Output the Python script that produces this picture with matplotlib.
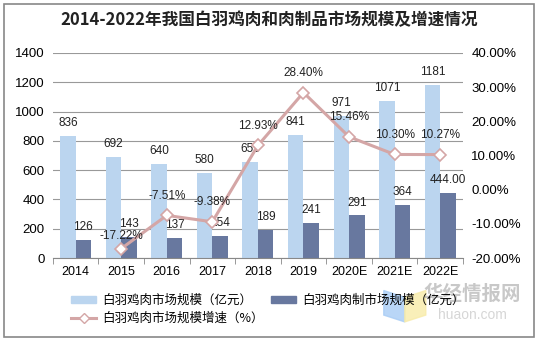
import numpy as np
import matplotlib.pyplot as plt
from matplotlib.patches import Rectangle, Polygon
from matplotlib.lines import Line2D

plt.rcParams['font.family'] = ['Liberation Sans', 'Noto Sans CJK SC', 'DejaVu Sans']

years = ['2014', '2015', '2016', '2017', '2018', '2019', '2020E', '2021E', '2022E']
market = [836, 692, 640, 580, 655, 841, 971, 1071, 1181]
products = [126, 143, 137, 154, 189, 241, 291, 364, 444]
product_labels = ['126', '143', '137', '154', '189', '241', '291', '364', '444.00']
growth = [np.nan, -17.22, -7.51, -9.38, 12.93, 28.40, 15.46, 10.30, 10.27]

c_light = '#BBD5EF'
c_dark = '#68789F'
c_line = '#D4A6A6'

fig = plt.figure(figsize=(5.39, 3.41), dpi=100)
ax = fig.add_axes([0.098, 0.243, 0.761, 0.602])
ax2 = ax.twinx()

x = np.arange(len(years))
w = 0.34
b1 = ax.bar(x - w / 2, market, w, color=c_light, zorder=2)
b2 = ax.bar(x + w / 2, products, w, color=c_dark, zorder=2)

for xi, v in zip(x, market):
    ax.annotate(str(v), (xi - w / 2, v), xytext=(0, 5), textcoords='offset points',
                ha='center', va='bottom', fontsize=8.5, color='#222222')
for xi, v, s in zip(x, products, product_labels):
    ax.annotate(s, (xi + w / 2, v), xytext=(0, 5), textcoords='offset points',
                ha='center', va='bottom', fontsize=8.5, color='#222222')

ax.set_ylim(0, 1400)
ax.set_yticks(range(0, 1401, 200))
ax.set_xlim(-0.5, len(years) - 0.5)
ax.set_xticks(x)
ax.set_xticklabels(years, fontsize=9)
ax.set_xticks(np.arange(-0.5, len(years), 1), minor=True)
ax.tick_params(axis='x', which='major', length=0, pad=6)
ax.tick_params(axis='x', which='minor', length=4, color='#888888')
ax.tick_params(axis='y', length=0, labelsize=9.5, pad=6)
ax.grid(axis='y', color='#999999', linewidth=0.8, zorder=0)
ax.set_axisbelow(True)
for sp in ['top', 'left', 'right']:
    ax.spines[sp].set_visible(False)
    ax2.spines[sp].set_visible(False)
ax.spines['bottom'].set_color('#888888')
ax2.spines['bottom'].set_visible(False)

ax2.plot(x, growth, color=c_line, linewidth=2.2, marker='D', markersize=6,
         markerfacecolor='white', markeredgecolor=c_line, markeredgewidth=1.2, zorder=3)
ax2.set_ylim(-20, 40)
ax2.set_yticks(range(-20, 41, 10))
ax2.set_yticklabels([f'{t:.2f}%' for t in range(-20, 41, 10)])
ax2.tick_params(axis='y', length=0, labelsize=9.5, pad=6)
for xi, g in zip(x, growth):
    if np.isnan(g):
        continue
    off = 5 if xi == 1 else 10
    ax2.annotate(f'{g:.2f}%', (xi, g), xytext=(0, off), textcoords='offset points',
                 ha='center', va='bottom', fontsize=8.5, color='#222222')

fig.text(0.5, 0.94, '2014-2022年我国白羽鸡肉和肉制品市场规模及增速情况',
         ha='center', va='center', fontsize=12, fontweight='bold', color='#222222',
         family=['Noto Sans CJK SC'])

# watermark (drawn under the legend)
fig.patches.append(Polygon([[0.712, 0.148], [0.751, 0.128], [0.751, 0.056], [0.712, 0.076]],
                           closed=True, transform=fig.transFigure, color='#A8CCF5', alpha=0.8))
fig.patches.append(Polygon([[0.751, 0.128], [0.790, 0.148], [0.790, 0.076], [0.751, 0.056]],
                           closed=True, transform=fig.transFigure, color='#F8EBA8', alpha=0.8))
fig.text(0.876, 0.138, '华经情报网', ha='center', va='center', fontsize=14, color='#BBBBBB',
         alpha=0.8, fontweight='bold', family=['Noto Sans CJK SC'])
fig.text(0.876, 0.076, 'huaon.com', ha='center', va='center', fontsize=10, color='#CCCCCC',
         alpha=0.8)

handles = [
    Rectangle((0, 0), 1, 1, color=c_light),
    Line2D([], [], color=c_line, linewidth=2.2, marker='D', markersize=5,
           markerfacecolor='white', markeredgecolor=c_line),
    Rectangle((0, 0), 1, 1, color=c_dark),
]
labels = ['白羽鸡肉市场规模（亿元）', '白羽鸡肉市场规模增速（%）', '白羽鸡肉制市场规模（亿元）']
fig.legend(handles, labels, ncol=2, loc='upper left', bbox_to_anchor=(0.111, 0.172),
           frameon=False, handlelength=2.0, handleheight=0.5,
           columnspacing=0.6, labelspacing=0.45, handletextpad=0.5,
           prop={'family': ['Noto Sans CJK SC'], 'size': 9})

fig.patches.append(Rectangle((0.008, 0.012), 0.983, 0.976, transform=fig.transFigure,
                             fill=False, edgecolor='#888888', linewidth=1.2))

fig.savefig('out.png', dpi=100)
